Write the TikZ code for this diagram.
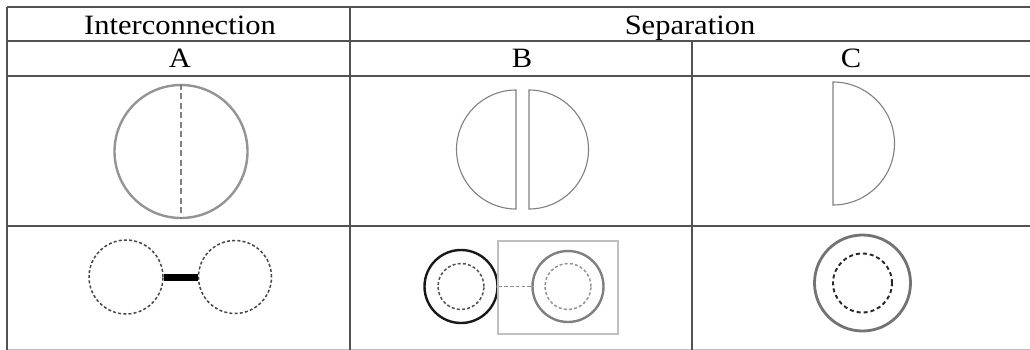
\documentclass[tikz,border=0pt]{standalone}
\usepackage{fontspec}
\setmainfont[FakeStretch=1.09]{Liberation Serif}
\begin{document}
\begin{tikzpicture}[x=1pt,y=-1pt,
  rule/.style={draw=black!68,line width=1.8pt},
  head/.style={font=\fontsize{28}{32}\selectfont,anchor=base,inner sep=0pt},
  outline/.style={draw=black!42,line width=2.4pt},
  halfdisk/.style={draw=black!50,line width=1.1pt,line join=miter},
  ghost/.style={circle,inner sep=0pt,draw=black!72,line width=1.5pt,dash pattern=on 3pt off 2.2pt},
  ring/.style={circle,inner sep=0pt,line width=2.4pt}]
\useasboundingbox (0,0) rectangle (1030,350);
\fill[white] (0,0) rectangle (1030,350);

% table rules
\draw[rule] (7,7) -- (1030,7);
\draw[rule] (7,41) -- (1030,41);
\draw[rule] (7,76) -- (1030,76);
\draw[rule] (7,226) -- (1030,226);
\draw[draw=black!25,line width=1pt] (7,349) -- (1030,349);
\draw[rule] (7,7) -- (7,350);
\draw[rule] (350,7) -- (350,350);
\draw[rule] (692,41) -- (692,350);

% headings
\node[head] (hInter) at (180,35) {Interconnection};
\node[head] (hSep) at (690,35) {Separation};
\node[head] (hA) at (180,68) {A};
\node[head] (hB) at (522,68) {B};
\node[head] (hC) at (851,68) {C};

% A: whole disc with a dashed split
\node[circle,inner sep=0pt,minimum size=133pt,outline] (discA) at (181,151.5) {};
\draw[draw=black!50,line width=2.2pt,dash pattern=on 6pt off 3.5pt] (discA.north) -- (discA.south);

% B: two separated halves (y grows downward, so angles run mirrored)
\draw[halfdisk] (516,90) arc[start angle=270,end angle=90,radius=59.5] -- cycle;
\draw[halfdisk] (529,90) arc[start angle=-90,end angle=90,radius=59.5] -- cycle;

% C: one half
\draw[halfdisk] (833,82) arc[start angle=-90,end angle=90,radius=61.5] -- cycle;

% A: two dashed cells joined by a bar
\node[ghost,minimum size=74pt] (cellL) at (126,277) {};
\node[ghost,minimum size=73pt] (cellR) at (235,277) {};
\draw[black,line width=7pt] (cellL.east) -- (cellR.west);

% B: black ring, boxed grey ring, dashed link
\node[ring,draw=black!90,minimum size=73pt] (ringL) at (461,286.5) {};
\node[ghost,minimum size=46pt,draw=black!68] (coreL) at (461,286.5) {};
\node[draw=black!25,line width=1.4pt,minimum width=120pt,minimum height=93pt,inner sep=0pt] (boxR) at (558,287.5) {};
\node[ring,draw=black!50,minimum size=71pt] (ringR) at (568,286.5) {};
\node[ghost,minimum size=46pt,draw=black!42] (coreR) at (568,286.5) {};
\draw[draw=black!45,line width=1.5pt,dash pattern=on 3.5pt off 2.2pt] (ringL.east) -- (ringR.west);

% C: grey ring around a dashed core
\node[ring,draw=black!55,line width=2.8pt,minimum size=96pt] (ringC) at (862.5,283) {};
\node[ghost,minimum size=59pt,draw=black!85,line width=1.9pt,dash pattern=on 4pt off 3pt] (coreC) at (862.5,283) {};
\end{tikzpicture}
\end{document}
